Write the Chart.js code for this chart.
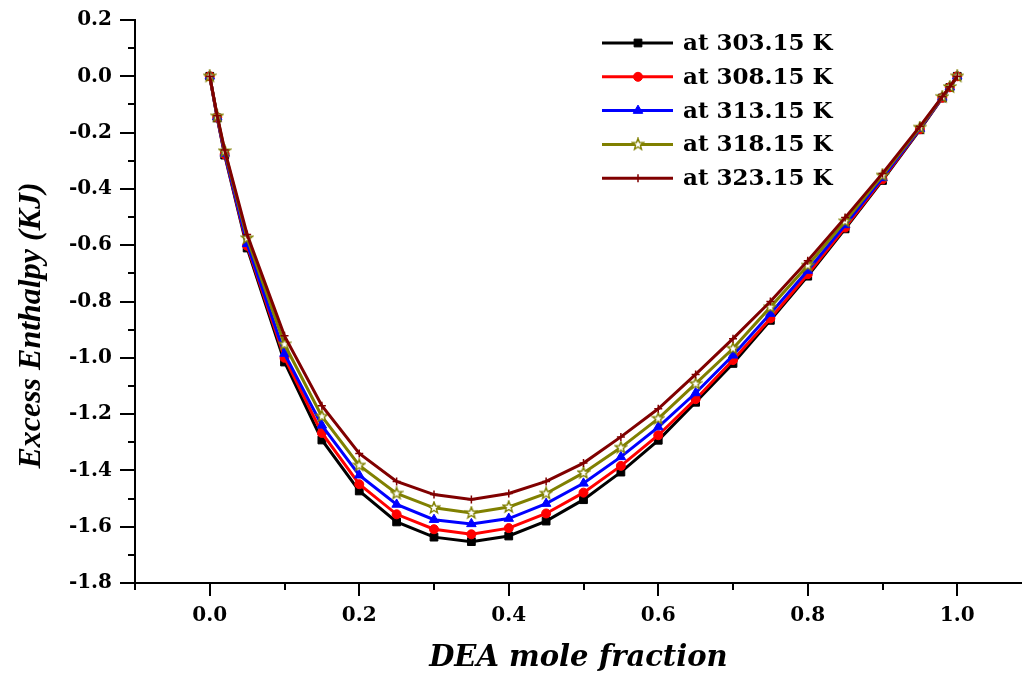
<!DOCTYPE html>
<html>
<head>
<meta charset="utf-8">
<script src="https://cdn.jsdelivr.net/npm/chart.js"></script>
<style>
  html, body { margin: 0; padding: 0; background: #fff; overflow: hidden; }
  #wrap { width: 1022px; height: 680px; overflow: hidden; }
  canvas { display: block; }
</style>
</head>
<body>
<div id="wrap"><canvas id="chart" width="1045" height="680"></canvas></div>
<script>
// excess enthalpy vs DEA mole fraction
const moleFraction = [0, 0.01, 0.02, 0.05, 0.1, 0.15, 0.2, 0.25, 0.3, 0.35, 0.4, 0.45, 0.5,
  0.55, 0.6, 0.65, 0.7, 0.75, 0.8, 0.85, 0.9, 0.95, 0.98, 0.99, 1.0];

const hE303 = [0, -0.148, -0.28, -0.61, -1.015, -1.292, -1.473, -1.583, -1.637, -1.653, -1.633, -1.580, -1.504,
  -1.406, -1.293, -1.158, -1.02, -0.867, -0.71, -0.542, -0.37, -0.19, -0.077, -0.04, 0];
const hE308 = [0, -0.146, -0.277, -0.602, -1.0, -1.267, -1.449, -1.556, -1.609, -1.627, -1.605, -1.553, -1.479,
  -1.384, -1.275, -1.147, -1.008, -0.86, -0.703, -0.537, -0.366, -0.188, -0.076, -0.039, 0];
const hE313 = [0, -0.145, -0.274, -0.595, -0.985, -1.240, -1.417, -1.521, -1.575, -1.590, -1.571, -1.518, -1.446,
  -1.352, -1.246, -1.125, -0.991, -0.843, -0.69, -0.528, -0.361, -0.186, -0.075, -0.039, 0];
const hE318 = [0, -0.142, -0.266, -0.575, -0.952, -1.208, -1.382, -1.482, -1.533, -1.551, -1.530, -1.482, -1.409,
  -1.319, -1.216, -1.092, -0.967, -0.82, -0.672, -0.515, -0.352, -0.182, -0.073, -0.038, 0];
const hE323 = [0, -0.14, -0.262, -0.562, -0.922, -1.17, -1.34, -1.439, -1.486, -1.503, -1.482, -1.439, -1.374,
  -1.281, -1.181, -1.059, -0.932, -0.80, -0.655, -0.502, -0.345, -0.178, -0.072, -0.037, 0];

const seriesLabels = ['at 303.15 K', 'at 308.15 K', 'at 313.15 K', 'at 318.15 K', 'at 323.15 K'];
const seriesValues = [hE303, hE308, hE313, hE318, hE323];
const seriesColors = ['#000000', '#ff0000', '#0000ff', '#808000', '#800000'];

// hollow five-point star marker
function starImage(size, color) {
  const c = document.createElement('canvas');
  c.width = size; c.height = size;
  const g = c.getContext('2d');
  const cx = size / 2, cy = size / 2, ro = size / 2 - 1, ri = ro * 0.42;
  g.beginPath();
  for (let i = 0; i < 10; i++) {
    const r = i % 2 ? ri : ro;
    const a = -Math.PI / 2 + i * Math.PI / 5;
    g.lineTo(cx + r * Math.cos(a), cy + r * Math.sin(a));
  }
  g.closePath();
  g.fillStyle = '#fff';
  g.fill();
  g.strokeStyle = color;
  g.lineWidth = 1.4;
  g.stroke();
  return c;
}

const markers = [
  { style: 'rect', radius: 5.5, border: 1 },
  { style: 'circle', radius: 4.5, border: 1 },
  { style: 'triangle', radius: 5.5, border: 1 },
  { style: starImage(14, seriesColors[3]), radius: 6, border: 1 },
  { style: 'cross', radius: 4, border: 1.5 },
];

const datasets = seriesValues.map((vals, i) => ({
  label: seriesLabels[i],
  data: moleFraction.map((x, j) => ({ x: x, y: vals[j] })),
  borderColor: seriesColors[i],
  backgroundColor: seriesColors[i],
  borderWidth: 3,
  pointStyle: markers[i].style,
  pointRadius: markers[i].radius,
  pointBorderWidth: markers[i].border,
  pointBackgroundColor: seriesColors[i],
  pointBorderColor: seriesColors[i],
  tension: 0,
  order: seriesValues.length - 1 - i,
}));

function isMajor(v) {
  return Math.round(v * 10) % 2 === 0;
}

// major and minor tick marks, pointing outwards
const axisTicks = {
  id: 'axisTicks',
  afterDraw(chart) {
    const { ctx, chartArea, scales } = chart;
    ctx.save();
    ctx.strokeStyle = '#000';
    ctx.lineWidth = 2;
    ctx.beginPath();
    scales.x.ticks.forEach(t => {
      const px = Math.round(scales.x.getPixelForValue(t.value));
      ctx.moveTo(px, chartArea.bottom);
      ctx.lineTo(px, chartArea.bottom + (isMajor(t.value) ? 13 : 7));
    });
    scales.y.ticks.forEach(t => {
      const py = Math.round(scales.y.getPixelForValue(t.value));
      ctx.moveTo(chartArea.left, py);
      ctx.lineTo(chartArea.left - (isMajor(t.value) ? 15 : 7), py);
    });
    ctx.stroke();
    ctx.restore();
  }
};

// legend inside the plot: line with marker in the middle, then the label
const lineLegend = {
  id: 'lineLegend',
  afterDraw(chart) {
    const ctx = chart.ctx;
    ctx.save();
    chart.data.datasets.forEach((ds, i) => {
      const y = 43 + i * 33.8;
      ctx.strokeStyle = ds.borderColor;
      ctx.lineWidth = 3;
      ctx.beginPath();
      ctx.moveTo(602, y);
      ctx.lineTo(673, y);
      ctx.stroke();
      ctx.fillStyle = ds.pointBackgroundColor;
      ctx.strokeStyle = ds.pointBorderColor;
      ctx.lineWidth = ds.pointBorderWidth;
      if (Chart.helpers && Chart.helpers.drawPoint) {
        Chart.helpers.drawPoint(ctx, { pointStyle: ds.pointStyle, radius: ds.pointRadius, rotation: 0, borderWidth: ds.pointBorderWidth }, 638, y);
      }
      ctx.fillStyle = '#000';
      ctx.font = 'bold 23px "DejaVu Serif", serif';
      ctx.textBaseline = 'middle';
      ctx.textAlign = 'left';
      ctx.fillText(ds.label, 683, y + 1);
    });
    ctx.restore();
  }
};

const tickFont = { family: '"DejaVu Serif", serif', size: 20, weight: 'bold' };

// invisible tick marks keep the labels off the axis without widening the layout padding
function spacerGrid(len) {
  return { display: true, drawOnChartArea: false, drawTicks: true, tickLength: len, color: 'rgba(0,0,0,0)' };
}

new Chart(document.getElementById('chart'), {
  type: 'line',
  data: { datasets: datasets },
  options: {
    responsive: false,
    animation: false,
    events: [],
    layout: { padding: { left: 0, top: 20, right: 13, bottom: 0 } },
    plugins: {
      legend: { display: false },
      tooltip: { enabled: false },
    },
    scales: {
      x: {
        type: 'linear',
        min: -0.1,
        max: 1.1,
        grid: spacerGrid(21),
        border: { display: true, color: '#000', width: 2 },
        ticks: {
          stepSize: 0.1,
          maxTicksLimit: 50,
          autoSkip: false,
          maxRotation: 0,
          padding: 0,
          color: '#000',
          font: tickFont,
          callback: v => (isMajor(v) && v > -0.05 && v < 1.05) ? (Math.abs(v) < 1e-9 ? '0.0' : v.toFixed(1)) : '',
        },
        title: {
          display: true,
          text: 'DEA mole fraction ',
          color: '#000',
          font: { family: '"DejaVu Serif", serif', size: 29, weight: 'bold', style: 'italic', lineHeight: 1.2 },
          padding: { top: 0, bottom: 4 },
        },
        afterFit(s) { s.height = 97; },
      },
      y: {
        min: -1.8,
        max: 0.2,
        grid: spacerGrid(23),
        border: { display: true, color: '#000', width: 2 },
        ticks: {
          stepSize: 0.1,
          maxTicksLimit: 50,
          autoSkip: false,
          padding: 0,
          color: '#000',
          font: tickFont,
          callback: v => isMajor(v) ? (Math.abs(v) < 1e-9 ? '0.0' : v.toFixed(1)) : '',
        },
        title: {
          display: true,
          // trailing spaces push the title down to where it sits in the figure
          text: 'Excess Enthalpy (KJ)      ',
          color: '#000',
          font: { family: '"Liberation Serif", serif', size: 32, weight: 'bold', style: 'italic', lineHeight: 1.2 },
          padding: { top: 13, bottom: 0 },
        },
        afterFit(s) { s.width = 135; },
      },
    },
  },
  plugins: [axisTicks, lineLegend],
});
</script>
</body>
</html>
